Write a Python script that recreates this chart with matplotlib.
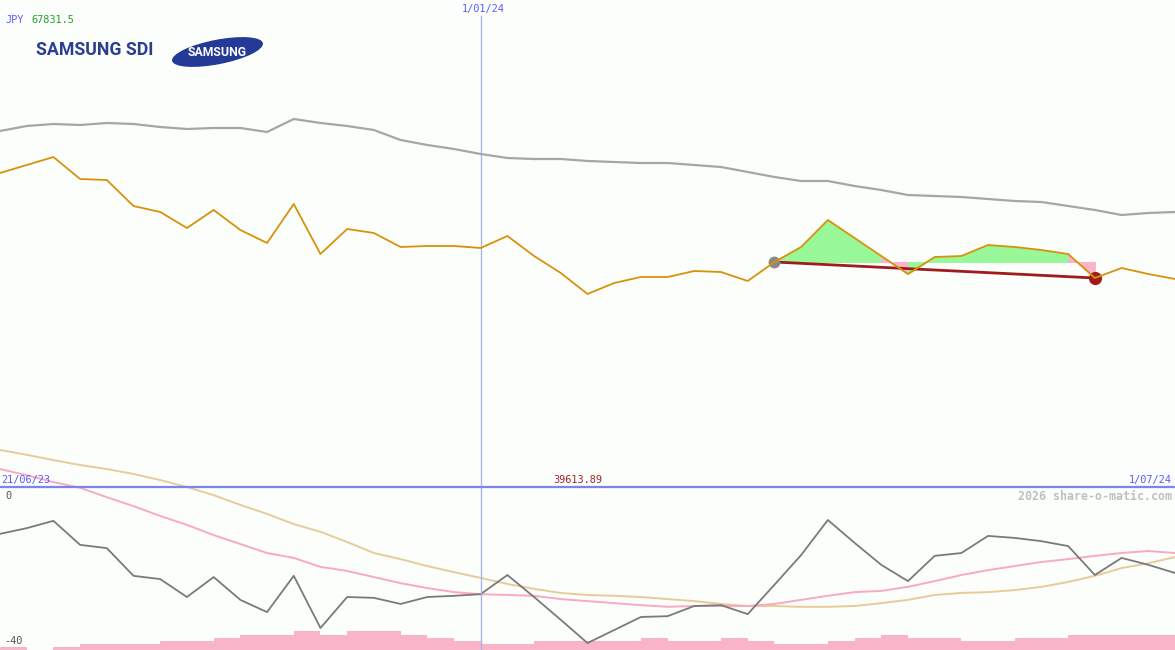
import matplotlib
matplotlib.use('Agg')
import matplotlib.pyplot as plt
from matplotlib.patches import Ellipse
import numpy as np

W, H = 1175, 650
BG = '#fcfefc'

# ---- data ----
price = [57807, 58271, 58735, 57460, 57402, 55895, 55548, 54621, 55664, 54505,
         53752, 56011, 53114, 54563, 54331, 53520, 53578, 53578, 53462, 54157,
         52998, 52013, 50797, 51434, 51782, 51782, 52129, 52071, 51550, 52651,
         53520, 55084, 54041, 52998, 51955, 52940, 52998, 53636, 53520, 53346,
         53114, 51724, 52303, 51955, 51666]
avg_line = [60241, 60531, 60647, 60589, 60705, 60647, 60473, 60357, 60415, 60415,
            60183, 60936, 60705, 60531, 60299, 59720, 59430, 59198, 58909, 58677,
            58619, 58619, 58503, 58445, 58387, 58387, 58271, 58155, 57866, 57576,
            57344, 57344, 57054, 56822, 56533, 56475, 56417, 56301, 56185, 56127,
            55896, 55664, 55374, 55490, 55548]
rel_perf = [-11.5, -10.1, -8.3, -14.2, -15.0, -21.8, -22.6, -27.0, -22.1, -27.7,
            -30.7, -21.8, -34.6, -27.0, -27.2, -28.7, -27.0, -26.7, -26.3, -21.6,
            -27.0, -32.6, -38.3, -35.1, -31.9, -31.7, -29.2, -29.0, -31.2, -24.0,
            -16.7, -8.1, -13.7, -19.1, -23.1, -16.9, -16.2, -12.0, -12.5, -13.3,
            -14.5, -21.6, -17.4, -19.1, -21.1]
rel_fast = [4.4, 2.9, 1.2, -0.2, -2.5, -4.7, -7.1, -9.3, -11.8, -14.0,
            -16.2, -17.4, -19.6, -20.6, -22.1, -23.6, -24.8, -25.8, -26.3, -26.5,
            -26.7, -27.5, -28.0, -28.5, -29.0, -29.4, -29.2, -29.2, -29.2, -28.7,
            -27.7, -26.7, -25.8, -25.5, -24.5, -23.1, -21.6, -20.4, -19.4, -18.4,
            -17.7, -16.9, -16.2, -15.7, -16.2]
rel_slow = [9.1, 7.9, 6.6, 5.4, 4.4, 3.2, 1.7, 0.0, -2.0, -4.4,
            -6.6, -9.1, -11.0, -13.5, -16.2, -17.7, -19.4, -20.9, -22.3, -23.8,
            -25.0, -26.0, -26.5, -26.7, -27.0, -27.5, -28.0, -28.7, -29.2, -29.2,
            -29.4, -29.4, -29.2, -28.5, -27.7, -26.5, -26.0, -25.8, -25.3, -24.5,
            -23.3, -21.8, -19.9, -18.7, -17.2]
volume = [27, 0, 27, 63, 63, 63, 93, 93, 120, 153,
          153, 193, 153, 193, 193, 153, 120, 90, 63, 63,
          90, 90, 90, 90, 120, 93, 93, 120, 93, 63,
          63, 93, 120, 150, 120, 120, 93, 93, 120, 120,
          150, 150, 150, 150]
trend_start, trend_end = 29, 41
marker_idx = 18
date_labels = ['21/06/23', '1/01/24', '1/07/24']
currency = 'JPY'
top_value = '67831.5'
top_num = 67831.5
mid_value = 39613.89
lower_labels = ['0', '-40']
lower_min, lower_zero = -40, 0
credit = '2026 share-o-matic.com'
company = 'SAMSUNG SDI'
brand = 'SAMSUNG'

# ---- layout ----
fig = plt.figure(figsize=(W / 100, H / 100), dpi=100, facecolor=BG)
split = 487  # pixel row of the panel divider

x = np.arange(len(price))
xlim = (0, len(price) - 1)

# volume axis (bottom layer)
axv = fig.add_axes([0, 0, 1, 1])
axv.set_facecolor(BG)
axv.bar(np.arange(len(volume)), volume, width=1.0, align='edge',
        color='#f9b4c8', lw=0, antialiased=False)
axv.set_xlim(*xlim)
axv.set_ylim(0, 6500)
axv.axis('off')

# lower panel axis
axl = fig.add_axes([0, 0, 1, 1])
axl.patch.set_alpha(0)
per_px = (lower_zero - lower_min) / (H - split)
axl.set_xlim(*xlim)
axl.set_ylim(lower_min, lower_zero + split * per_px)
axl.plot(x, rel_slow, color='#e6cc9a', lw=1.4)
axl.plot(x, rel_fast, color='#f9a9c2', lw=1.4)
axl.plot(x, rel_perf, color='#7a7a7a', lw=1.3)
axl.axis('off')

# main price axis
ax = fig.add_axes([0, 0, 1, 1])
ax.patch.set_alpha(0)
ax.set_xlim(*xlim)
span = top_num - mid_value
ax.set_ylim(top_num - span * H / split, top_num)
ax.axis('off')

ax.axvline(marker_idx, ymin=0, ymax=1 - 16 / H, color='#aab2ea', lw=1.0, zorder=1)
ax.axhline(mid_value, color='#7c85ec', lw=1.6, zorder=2)

base = price[trend_start]
for i in range(trend_start, trend_end):
    col = '#98f898' if price[i + 1] >= base else '#f9b4c8'
    ax.fill_between(x[i:i + 2], base, price[i:i + 2], facecolor=col, edgecolor=col,
                    lw=0.7, zorder=2)

ax.plot(x, avg_line, color='#a6a6a6', lw=1.6, zorder=3)
ax.plot([x[trend_start], x[trend_end]], [price[trend_start], price[trend_end]],
        color='#a01c1c', lw=2.0, zorder=4)
ax.plot(x[trend_start], price[trend_start], 'o', color='#888888', ms=8.5, mew=0, zorder=5)
ax.plot(x[trend_end], price[trend_end], 'o', color='#a01c1c', ms=9.5, mew=0, zorder=5)
ax.plot(x, price, color='#d8920a', lw=1.3, zorder=6)

# ---- texts ----
mono = ['DejaVu Sans Mono']
def px(xp, yp):
    return xp / W, 1 - yp / H

fig.text(*px(5, 20), currency, color='#5a5aff', fontsize=7.4, family=mono, va='center')
fig.text(*px(31, 20), top_value, color='#22a022', fontsize=7.4, family=mono, va='center')
fig.text(*px(483, 9), date_labels[1], color='#5a5aff', fontsize=7.4, family=mono,
         va='center', ha='center')
fig.text(*px(1, 480), date_labels[0], color='#5a5aff', fontsize=7.4, family=mono, va='center')
fig.text(*px(1172, 480), date_labels[2], color='#5a5aff', fontsize=7.4, family=mono,
         va='center', ha='right')
fig.text(*px(578, 480), f'{mid_value:.2f}', color='#a02828', fontsize=7.4, family=mono,
         va='center', ha='center')
fig.text(*px(5, 496), lower_labels[0], color='#555555', fontsize=7.4, family=mono, va='center')
fig.text(*px(4, 641), lower_labels[1], color='#555555', fontsize=7.4, family=mono, va='center')
fig.text(*px(1172, 496), credit, color='#c0c0c0', fontsize=8.4, family=mono,
         weight='bold', va='center', ha='right')

# company name
fig.text(*px(36, 50), company, color='#2b3f8e', fontsize=12.8, family=['Roboto', 'DejaVu Sans'],
         weight='bold', va='center', ha='left')

# brand ellipse logo
axlogo = fig.add_axes([170 / W, 1 - 69 / H, 96 / W, 34 / H])
axlogo.set_xlim(0, 96)
axlogo.set_ylim(0, 34)
axlogo.axis('off')
axlogo.add_patch(Ellipse((47.5, 17), 92.5, 24.5, angle=11, color='#233a96', lw=0))
axlogo.text(47.5, 16.5, brand, color='white', fontsize=8.8, weight='bold',
            family=['Roboto', 'DejaVu Sans'], ha='center', va='center')

fig.savefig('out.png', dpi=100, facecolor=BG)
